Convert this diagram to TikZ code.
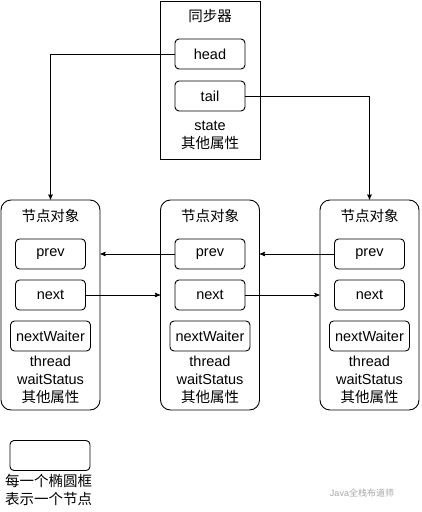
\documentclass[tikz,border=0pt]{standalone}
\usepackage{fontspec}
\setmainfont{Liberation Sans}
\newfontfamily\cjk{Noto Sans CJK SC}
\usetikzlibrary{arrows}
\tikzset{every picture/.style={/utils/exec={\fontsize{14.5}{18}\selectfont}}}
\tikzset{holder/.style={draw,line width=0.9pt,minimum width=100pt,minimum height=158pt}}
\tikzset{nodebox/.style={draw,line width=0.9pt,rounded corners=10pt,minimum width=99pt,minimum height=210pt}}
\tikzset{field/.style={draw,line width=0.9pt,rounded corners=4pt,minimum width=70pt,minimum height=30pt,inner sep=0pt}}
\tikzset{widefield/.style={field,minimum width=80pt}}
\tikzset{ptr/.style={-stealth',line width=0.9pt}}

\begin{document}
\begin{tikzpicture}[x=1pt,y=1pt]
    \useasboundingbox (0,0) rectangle (421,-512);
    % synchronizer
    \node [holder] (sync) at (210,-80) {};
    \node (synctitle) at (210,-16) {\cjk 同步器};
    \node [field] (head) at (210,-54) {head};
    \node [field] (tail) at (210,-96) {tail};
    \node [align=center] (syncrest) at (210,-135) {state\\\cjk 其他属性};
    % the three nodes
    \foreach \i/\x in {1/50.5,2/210,3/369.5} {
        \node [nodebox] (n\i) at (\x,-305) {};
        \node (t\i) at (\x,-216) {\cjk 节点对象};
        \node [field] (p\i) at (\x,-254) {prev};
        \node [field] (x\i) at (\x,-295) {next};
        \node [widefield] (w\i) at (\x,-336) {nextWaiter};
        \node [align=center] (r\i) at (\x,-380) {thread\\waitStatus\\\cjk 其他属性};
    }
    \draw [ptr] (head.west) -| (n1.north);
    \draw [ptr] (tail.east) -| (n3.north);
    \draw [ptr] (p2.west) -- (n1.east |- p2.west);
    \draw [ptr] (p3.west) -- (n2.east |- p3.west);
    \draw [ptr] (x1.east) -- (n2.west |- x1.east);
    \draw [ptr] (x2.east) -- (n3.west |- x2.east);
    % legend
    \node [widefield] (legend) at (50,-455.5) {};
    \node [align=left,anchor=north west,inner sep=0pt] (legendtext) at (5,-474) {\cjk 每一个椭圆框\\\cjk 表示一个节点};
    \node [text=gray!70,font=\fontsize{9}{11}\selectfont] (mark) at (362,-493) {Java\cjk 全栈布道师};
\end{tikzpicture}
\end{document}
